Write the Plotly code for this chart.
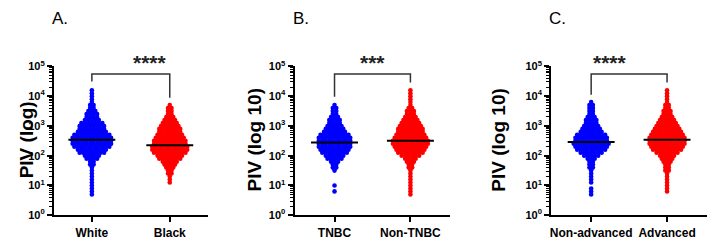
import plotly.graph_objects as go

# ---------------- data ----------------
# Swarm shape: number of dots per row; rows are log10 bins of 0.1 starting at *_log0
panels = ["A.", "B.", "C."]
categories = [["White", "Black"], ["TNBC", "Non-TNBC"], ["Non-advanced", "Advanced"]]
y_titles = ["PIV (log)", "PIV (log 10)", "PIV (log 10)"]
stars = ["****", "***", "****"]

white_log0 = 0.7
white_counts = [1, 1, 1, 1, 1, 1, 1, 1, 1, 1, 2, 2, 4, 5, 8, 9, 11, 12, 12, 12, 11, 9, 8, 8, 7, 5, 4, 4, 3, 2, 2, 1, 1, 1, 1, 1]
black_log0 = 1.1
black_counts = [1, 1, 1, 2, 2, 3, 4, 5, 7, 8, 10, 11, 11, 10, 10, 9, 8, 7, 7, 6, 5, 4, 3, 2, 2, 2, 1]
tnbc_log0 = 0.8
tnbc_counts = [1, 0, 1, 0, 0, 0, 0, 1, 2, 2, 3, 5, 6, 8, 9, 10, 10, 10, 10, 9, 7, 6, 5, 4, 4, 3, 2, 2, 2, 1]
nontnbc_log0 = 0.7
nontnbc_counts = [1, 1, 1, 1, 1, 1, 1, 1, 1, 2, 2, 3, 4, 6, 8, 9, 10, 11, 11, 10, 9, 8, 8, 7, 6, 5, 4, 3, 3, 2, 1, 1, 1, 1, 1, 1]
nonadv_log0 = 0.7
nonadv_counts = [1, 1, 1, 0, 1, 1, 1, 1, 1, 2, 2, 2, 3, 5, 7, 9, 10, 11, 10, 10, 9, 7, 6, 5, 4, 4, 3, 2, 2, 2, 2, 1]
adv_log0 = 0.8
adv_counts = [1, 1, 1, 1, 1, 1, 1, 2, 2, 2, 3, 4, 5, 7, 9, 10, 11, 11, 11, 10, 9, 8, 7, 6, 5, 4, 3, 3, 2, 2, 1, 1, 1, 1, 1]

medians = [[340, 225], [280, 316], [288, 340]]
# bracket: top level, left-leg end, right-leg end (values)
brackets = [[56000, 31000, 8900], [56000, 9500, 29000], [56000, 11200, 29000]]

groups = [
    [(white_log0, white_counts), (black_log0, black_counts)],
    [(tnbc_log0, tnbc_counts), (nontnbc_log0, nontnbc_counts)],
    [(nonadv_log0, nonadv_counts), (adv_log0, adv_counts)],
]
colors = ["#0000FF", "#FF0000"]

# ---------------- layout geometry ----------------
W, H = 708, 241
axis_left_px = [53, 294, 551]
cat_px = [[91, 169], [334, 410], [591, 667]]
y_bottom_px, y_top_px = 220, 62
BIN = 0.1
DOT = 4.6
SPACING = 3.5

fig = go.Figure()
layout = dict(width=W, height=H, margin=dict(l=0, r=0, t=0, b=0),
              paper_bgcolor="white", plot_bgcolor="white", showlegend=False,
              annotations=[], font=dict(family="Liberation Sans", color="black"))

for p in range(3):
    c0, c1 = cat_px[p]
    ppu = c1 - c0  # pixels per x unit
    left = axis_left_px[p]
    lo = (left - c0) / ppu
    hi = 1 - lo
    right_px = c0 + hi * ppu
    xa = "x" if p == 0 else f"x{p+1}"
    ya = "y" if p == 0 else f"y{p+1}"
    xkey = "xaxis" if p == 0 else f"xaxis{p+1}"
    ykey = "yaxis" if p == 0 else f"yaxis{p+1}"

    for g in range(2):
        log0, counts = groups[p][g]
        xs, ys = [], []
        for i, n in enumerate(counts):
            lv = log0 + BIN * i
            for k in range(n):
                xs.append(g + (k - (n - 1) / 2) * SPACING / ppu)
                ys.append(10 ** lv)
        fig.add_trace(go.Scatter(x=xs, y=ys, mode="markers", xaxis=xa, yaxis=ya,
                                 marker=dict(size=DOT, color=colors[g], line=dict(width=0)),
                                 hoverinfo="skip"))
        hw = 23.5 / ppu
        fig.add_trace(go.Scatter(x=[g - hw, g + hw], y=[medians[p][g]] * 2, mode="lines",
                                 xaxis=xa, yaxis=ya, line=dict(color="black", width=2),
                                 hoverinfo="skip"))
    top, lleg, rleg = brackets[p]
    fig.add_trace(go.Scatter(x=[0, 0, 1, 1], y=[lleg, top, top, rleg], mode="lines",
                             xaxis=xa, yaxis=ya, line=dict(color="#333333", width=1.5),
                             hoverinfo="skip"))

    layout[xkey] = dict(domain=[left / W, right_px / W], range=[lo, hi], anchor=ya,
                        tickvals=[0, 1], ticktext=[f"<b>{c}</b>" for c in categories[p]],
                        ticks="outside", ticklen=5, tickwidth=2, tickcolor="black",
                        showline=True, linewidth=2, linecolor="black",
                        showgrid=False, zeroline=False,
                        tickfont=dict(size=12, family="Liberation Sans", color="black"))
    layout[ykey] = dict(domain=[1 - y_bottom_px / H, 1 - y_top_px / H], type="log",
                        range=[0, 5], anchor=xa,
                        tickvals=[1, 10, 100, 1000, 10000, 100000],
                        ticktext=[f"<b>10<sup>{i}</sup></b>" for i in range(6)],
                        ticks="outside", ticklen=5, tickwidth=2, tickcolor="black",
                        minor=dict(ticks="outside", ticklen=3, tickwidth=1, tickcolor="black",
                                   dtick="D1"),
                        showline=True, linewidth=2, linecolor="black",
                        showgrid=False, zeroline=False,
                        tickfont=dict(size=11, family="Liberation Sans", color="black"))
    # y title
    layout["annotations"].append(dict(text=f"<b>{y_titles[p]}</b>", textangle=-90,
                                      x=(left - 40) / W, y=1 - 140 / H, xref="paper", yref="paper",
                                      showarrow=False, font=dict(size=19, color="black")))
    # panel letter
    layout["annotations"].append(dict(text=panels[p], x=(left - 4) / W, y=1 - 11 / H,
                                      xref="paper", yref="paper", xanchor="left", yanchor="middle",
                                      showarrow=False, font=dict(size=17, color="black")))
    # stars
    layout["annotations"].append(dict(text=f"<b>{stars[p]}</b>", x=(c0 + c1) / 2 / W, y=1 - 72 / H,
                                      xref="paper", yref="paper", yanchor="bottom",
                                      showarrow=False,
                                      font=dict(size=21, color="#222222")))

fig.update_layout(**layout)
fig.write_html("out.html")
